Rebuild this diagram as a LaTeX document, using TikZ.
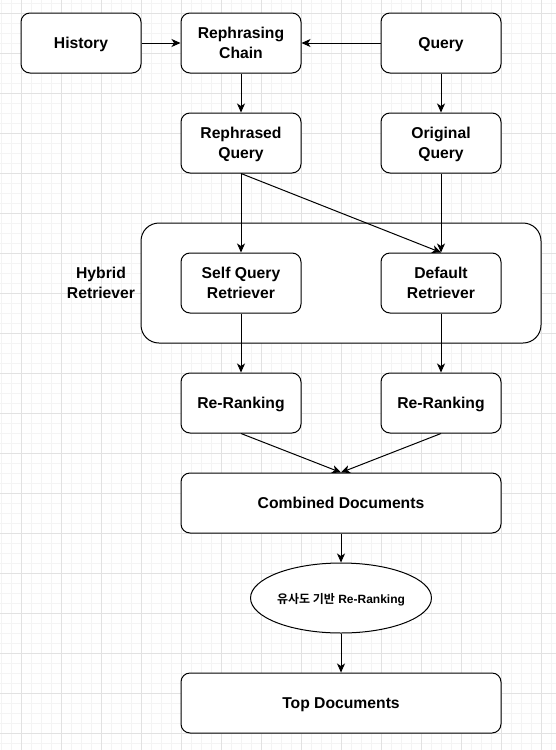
\documentclass[tikz,border=0pt]{standalone}
\usepackage{fontspec}
\setmainfont{Liberation Sans}
\newfontfamily\krfont{Noto Sans CJK KR}[BoldFont={Noto Sans CJK KR Bold}]
\usetikzlibrary{arrows.meta,shapes.geometric}
\definecolor{gridminor}{HTML}{F4F4F4}
\definecolor{gridmajor}{HTML}{E2E2E2}
\begin{document}
\begin{tikzpicture}[x=1pt,y=-1pt,
  box/.style={draw, fill=white, line width=1pt, rounded corners=9pt, minimum width=120pt, minimum height=60pt, inner sep=0pt, text depth=0pt, align=center, font=\bfseries\fontsize{15.7}{20}\selectfont},
  widebox/.style={box, minimum width=320pt},
  container/.style={draw, fill=white, line width=1pt, rounded corners=18pt, minimum width=400pt, minimum height=120pt, inner sep=0pt},
  plain/.style={align=center, inner sep=0pt, text depth=0pt, font=\bfseries\fontsize{15.7}{20}\selectfont},
  oval/.style={draw, fill=white, ellipse, line width=1pt, minimum width=180pt, minimum height=70pt, inner sep=0pt, text depth=0pt, font=\bfseries\fontsize{12}{14}\selectfont},
  arr/.style={draw, line width=1pt, -{Stealth[length=9pt,width=8pt,inset=2.5pt]}}
]
\useasboundingbox (0,0) rectangle (556,750);
\fill[white] (0,0) rectangle (556,750);
\foreach \x in {1,11,...,551} \draw[gridminor, line width=1pt] (\x,0) -- (\x,750);
\foreach \y in {3,13,...,743} \draw[gridminor, line width=1pt] (0,\y) -- (556,\y);
\foreach \x in {21,61,...,541} \draw[gridmajor, line width=1pt] (\x,0) -- (\x,750);
\foreach \y in {13,53,...,733} \draw[gridmajor, line width=1pt] (0,\y) -- (556,\y);

\node[container] (hyb) at (341,283) {};
\node[plain] (hyblabel) at (101,283) {Hybrid\\Retriever};

\node[box] (hist) at (81,43) {History};
\node[box] (rc) at (241,43) {Rephrasing\\Chain};
\node[box] (q) at (441,43) {Query};
\node[box] (rq) at (241,143) {Rephrased\\Query};
\node[box] (oq) at (441,143) {Original\\Query};
\node[box] (sq) at (241,283) {Self Query\\Retriever};
\node[box] (dr) at (441,283) {Default\\Retriever};
\node[box] (rr1) at (241,403) {Re-Ranking};
\node[box] (rr2) at (441,403) {Re-Ranking};
\node[widebox] (comb) at (341,503) {Combined Documents};
\node[oval] (sim) at (341,598) {{\krfont 유사도 기반} Re-Ranking};
\node[widebox] (top) at (341,703) {Top Documents};

\draw[arr] (hist) -- (rc);
\draw[arr] (q) -- (rc);
\draw[arr] (rc) -- (rq);
\draw[arr] (q) -- (oq);
\draw[arr] (rq) -- (sq);
\draw[arr] (rq.south) -- (dr.north);
\draw[arr] (oq) -- (dr);
\draw[arr] (sq) -- (rr1);
\draw[arr] (dr) -- (rr2);
\draw[arr] (rr1.south) -- (comb.north);
\draw[arr] (rr2.south) -- (comb.north);
\draw[arr] (comb) -- (sim);
\draw[arr] (sim) -- (top);
\end{tikzpicture}
\end{document}
